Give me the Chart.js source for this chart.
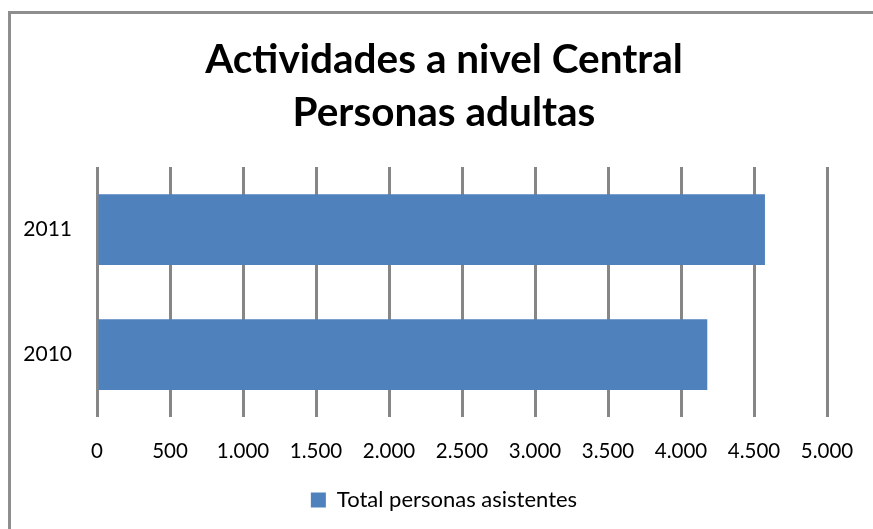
<!DOCTYPE html>
<html>
<head>
<meta charset="utf-8">
<script src="https://cdn.jsdelivr.net/npm/chart.js@4"></script>
<style>
  html, body { margin: 0; padding: 0; background: #fff; overflow: hidden; }
  #frame { position: absolute; left: 8px; top: 11px; width: 900px; height: 600px; border: 3px solid #8e8e8e; }
  #chart { position: absolute; left: 0; top: 0; }
</style>
</head>
<body>
<div id="frame"></div>
<canvas id="chart" width="873" height="529"></canvas>
<script>
// values
const years = ['2011', '2010'];
const asistentes = [4575, 4180];
const xTickLabels = ['0', '500', '1.000', '1.500', '2.000', '2.500', '3.000', '3.500', '4.000', '4.500', '5.000'];

const ctx = document.getElementById('chart').getContext('2d');
new Chart(ctx, {
    type: 'bar',
    data: {
        labels: years,
        datasets: [{
            label: 'Total personas asistentes',
            data: asistentes,
            backgroundColor: '#4F81BD',
            categoryPercentage: 1,
            barPercentage: 0.566
        }]
    },
    options: {
        responsive: false,
        animation: false,
        indexAxis: 'y',
        layout: { padding: { left: 15, right: 0, top: 0, bottom: 8 } },
        plugins: {
            title: {
                display: true,
                text: ['Actividades a nivel Central', 'Personas adultas'],
                color: '#000',
                font: { family: 'Lato', size: 40.5, weight: 'bold', lineHeight: 1.3 },
                padding: { top: 34, bottom: 27.7 }
            },
            legend: {
                position: 'bottom',
                labels: {
                    color: '#000',
                    boxWidth: 15,
                    boxHeight: 15,
                    padding: 4,
                    font: { family: 'Lato', size: 22 }
                }
            },
            tooltip: { enabled: false }
        },
        scales: {
            x: {
                min: 0,
                max: 5000,
                ticks: {
                    stepSize: 500,
                    color: '#000',
                    padding: 22,
                    font: { family: 'Lato', size: 20.5 },
                    callback: (v, i) => xTickLabels[i]
                },
                grid: { color: '#868686', lineWidth: 3, drawTicks: false },
                border: { display: false },
                afterFit: s => { s.paddingRight = 46; s.height = 68; }
            },
            y: {
                ticks: {
                    color: '#000',
                    padding: 25,
                    font: { family: 'Lato', size: 21 }
                },
                grid: { display: false, drawTicks: false },
                border: { display: false },
                afterFit: s => { s.width = 82; }
            }
        }
    }
});
</script>
</body>
</html>
